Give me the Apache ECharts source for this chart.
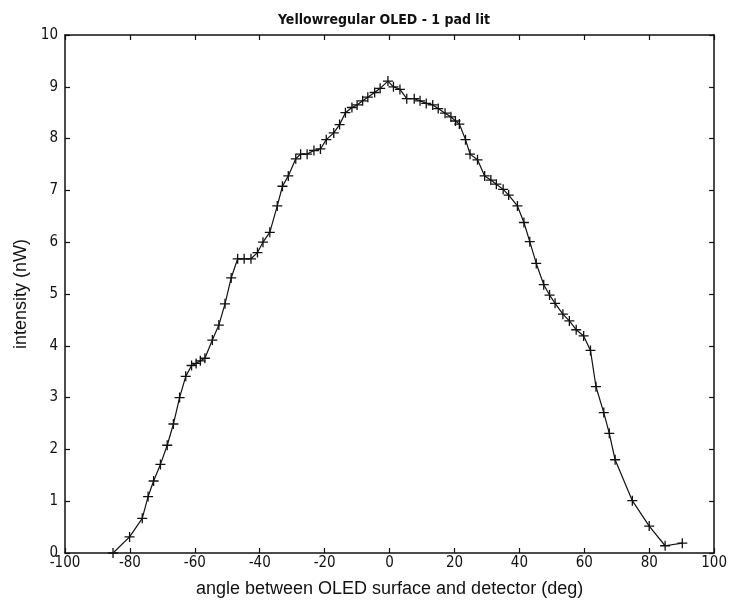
<!DOCTYPE html>
<html>
<head>
<meta charset="utf-8">
<script src="https://cdn.jsdelivr.net/npm/echarts@6/dist/echarts.min.js"></script>
<style>html,body{margin:0;padding:0;background:#fff;}#c{width:730px;height:604px;}</style>
</head>
<body>
<div id="c"></div>
<script>
const titleText = 'Yellowregular OLED - 1 pad lit';
const xAxisName = 'angle between OLED surface and detector (deg)';
const yAxisName = 'intensity (nW)';
const xTicks = [-100, -80, -60, -40, -20, 0, 20, 40, 60, 80, 100];
const yTicks = [0, 1, 2, 3, 4, 5, 6, 7, 8, 9, 10];
const angles = [-85.2, -80.1, -76.2, -74.4, -72.7, -70.6, -68.5, -66.6, -64.7, -62.8,
  -61.0, -59.6, -58.3, -56.9, -54.6, -52.6, -50.7, -48.8, -46.8, -44.8,
  -42.7, -40.7, -39.0, -36.9, -34.6, -33.0, -31.2, -28.9, -27.4, -25.4,
  -23.3, -21.3, -19.5, -17.2, -15.4, -13.6, -11.6, -10.0, -8.3, -6.7,
  -4.6, -2.9, -0.5, 1.2, 3.2, 5.3, 7.6, 9.4, 11.3, 13.3,
  15.0, 17.1, 18.9, 20.3, 21.5, 23.4, 24.8, 27.1, 29.3, 31.2,
  32.9, 35.0, 36.7, 39.4, 41.4, 43.2, 45.2, 47.5, 49.3, 51.0,
  53.4, 55.4, 57.5, 59.8, 61.9, 63.6, 66.0, 67.7, 69.5, 74.8,
  80.0, 84.9, 90.2];
const intensity = [0, 0.31, 0.67, 1.09, 1.39, 1.71, 2.08, 2.49, 3.0, 3.41,
  3.62, 3.66, 3.71, 3.76, 4.11, 4.40, 4.81, 5.31, 5.68, 5.68,
  5.68, 5.80, 6.0, 6.19, 6.70, 7.08, 7.28, 7.61, 7.70, 7.70,
  7.77, 7.80, 7.98, 8.11, 8.27, 8.50, 8.60, 8.65, 8.73, 8.80,
  8.89, 8.97, 9.11, 9.0, 8.95, 8.77, 8.77, 8.73, 8.68, 8.65,
  8.58, 8.49, 8.42, 8.34, 8.28, 7.98, 7.70, 7.59, 7.28, 7.20,
  7.12, 7.02, 6.91, 6.70, 6.38, 6.01, 5.59, 5.18, 4.98, 4.82,
  4.61, 4.48, 4.31, 4.19, 3.91, 3.21, 2.71, 2.31, 1.80, 1.01,
  0.52, 0.14, 0.19];

const points = angles.map((a, i) => [a, intensity[i]]);
const FONT = "'DejaVu Sans Condensed', 'Liberation Sans Narrow', 'Liberation Sans', Arial, sans-serif";
const FONT2 = "'Liberation Sans', Arial, sans-serif";

const chart = echarts.init(document.getElementById('c'), null, {renderer: 'canvas'});
const axisLineStyle = {color: '#111', width: 1.5};
const tickStyle = {inside: true, length: 5, lineStyle: {color: '#111', width: 1.2}};

chart.setOption({
  animation: false,
  backgroundColor: '#fff',
  title: {
    text: titleText,
    left: 379, textAlign: 'center', top: 8,
    textStyle: {fontFamily: FONT, fontSize: 14, fontWeight: 'bold', color: '#111'}
  },
  grid: {left: 65, right: 13, top: 35, bottom: 51, containLabel: false},
  xAxis: [{
    type: 'value', position: 'bottom',
    min: xTicks[0], max: xTicks[xTicks.length - 1], interval: 20,
    axisLine: {show: true, onZero: false, lineStyle: axisLineStyle},
    axisTick: tickStyle,
    axisLabel: {color: '#111', fontFamily: FONT, fontSize: 15, margin: 3},
    splitLine: {show: false},
    name: xAxisName, nameLocation: 'middle', nameGap: 27,
    nameTextStyle: {fontFamily: FONT2, fontSize: 18, color: '#111'}
  }, {
    type: 'value', position: 'top',
    min: xTicks[0], max: xTicks[xTicks.length - 1], interval: 20,
    axisLine: {show: true, onZero: false, lineStyle: axisLineStyle},
    axisTick: tickStyle,
    axisLabel: {show: false},
    splitLine: {show: false}
  }],
  yAxis: [{
    type: 'value', position: 'left',
    min: yTicks[0], max: yTicks[yTicks.length - 1], interval: 1,
    axisLine: {show: true, onZero: false, lineStyle: axisLineStyle},
    axisTick: tickStyle,
    axisLabel: {color: '#111', fontFamily: FONT, fontSize: 15, margin: 7},
    splitLine: {show: false},
    name: yAxisName, nameLocation: 'middle', nameGap: 35, nameRotate: 90,
    nameTextStyle: {fontFamily: FONT2, fontSize: 18, color: '#111'}
  }, {
    type: 'value', position: 'right',
    min: yTicks[0], max: yTicks[yTicks.length - 1], interval: 1,
    axisLine: {show: true, onZero: false, lineStyle: axisLineStyle},
    axisTick: tickStyle,
    axisLabel: {show: false},
    splitLine: {show: false}
  }],
  series: [{
    type: 'line',
    xAxisIndex: 0, yAxisIndex: 0,
    data: points,
    showAllSymbol: true,
    symbol: 'path://M0,5L10,5M5,0L5,10',
    symbolSize: 10,
    itemStyle: {color: 'rgba(0,0,0,0)', borderColor: '#111', borderWidth: 1.3},
    lineStyle: {color: '#111', width: 1.2},
    clip: false
  }]
});
</script>
</body>
</html>
